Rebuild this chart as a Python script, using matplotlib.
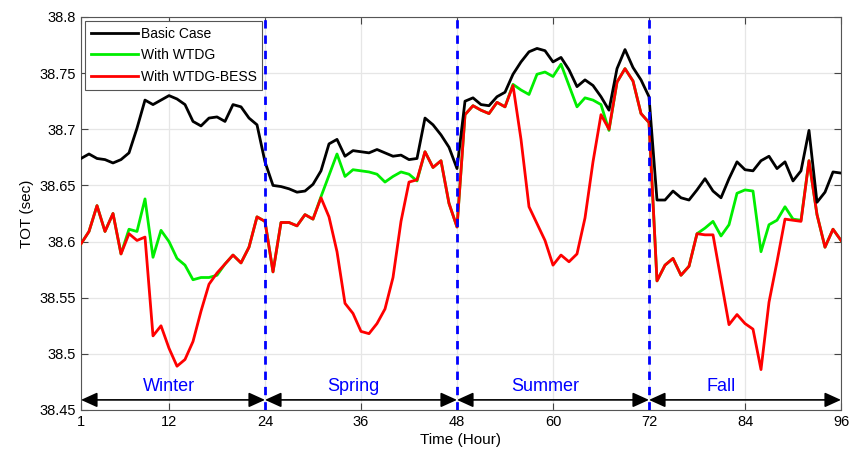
import matplotlib
matplotlib.use("Agg")
from matplotlib import pyplot as plt

plt.rcParams['font.family'] = ['Liberation Sans', 'DejaVu Sans']

hours = list(range(1, 97))

basic_case = [
    38.674, 38.678, 38.674, 38.673, 38.670, 38.673, 38.679, 38.701, 38.726, 38.722,
    38.726, 38.730, 38.727, 38.722, 38.707, 38.703, 38.710, 38.711, 38.707, 38.722,
    38.720, 38.710, 38.704, 38.671,
    38.650, 38.649, 38.647, 38.644, 38.645, 38.651, 38.663, 38.687, 38.691, 38.676,
    38.681, 38.680, 38.679, 38.682, 38.679, 38.676, 38.677, 38.673, 38.674, 38.710,
    38.704, 38.695, 38.684, 38.665,
    38.725, 38.728, 38.722, 38.721, 38.729, 38.733, 38.749, 38.760, 38.769, 38.772,
    38.770, 38.760, 38.764, 38.753, 38.738, 38.744, 38.739, 38.729, 38.717, 38.754,
    38.771, 38.755, 38.744, 38.729,
    38.637, 38.637, 38.645, 38.639, 38.637, 38.646, 38.656, 38.645, 38.639, 38.656,
    38.671, 38.664, 38.663, 38.672, 38.676, 38.665, 38.671, 38.654, 38.663, 38.699,
    38.635, 38.644, 38.662, 38.661,
]

with_wtdg = [
    38.598, 38.609, 38.632, 38.609, 38.625, 38.589, 38.611, 38.609, 38.638, 38.586,
    38.610, 38.600, 38.585, 38.579, 38.566, 38.568, 38.568, 38.570, 38.580, 38.588,
    38.581, 38.595, 38.622, 38.618,
    38.573, 38.617, 38.617, 38.614, 38.624, 38.620, 38.640, 38.659, 38.678, 38.658,
    38.664, 38.663, 38.662, 38.660, 38.653, 38.658, 38.662, 38.660, 38.654, 38.680,
    38.666, 38.672, 38.634, 38.613,
    38.713, 38.721, 38.717, 38.714, 38.724, 38.720, 38.740, 38.735, 38.731, 38.749,
    38.751, 38.747, 38.758, 38.739, 38.720, 38.728, 38.726, 38.722, 38.699, 38.742,
    38.754, 38.743, 38.714, 38.706,
    38.565, 38.579, 38.585, 38.570, 38.578, 38.607, 38.612, 38.618, 38.605, 38.615,
    38.643, 38.646, 38.645, 38.591, 38.615, 38.619, 38.631, 38.620, 38.619, 38.672,
    38.624, 38.595, 38.611, 38.601,
]

with_wtdg_bess = [
    38.598, 38.609, 38.632, 38.609, 38.625, 38.589, 38.607, 38.601, 38.604, 38.516,
    38.525, 38.505, 38.489, 38.495, 38.511, 38.538, 38.562, 38.572, 38.580, 38.588,
    38.581, 38.595, 38.622, 38.618,
    38.573, 38.617, 38.617, 38.614, 38.624, 38.620, 38.639, 38.622, 38.591, 38.545,
    38.536, 38.520, 38.518, 38.527, 38.540, 38.568, 38.618, 38.653, 38.655, 38.680,
    38.666, 38.672, 38.634, 38.613,
    38.713, 38.721, 38.717, 38.714, 38.724, 38.720, 38.739, 38.691, 38.631, 38.616,
    38.601, 38.579, 38.588, 38.582, 38.589, 38.621, 38.671, 38.713, 38.700, 38.742,
    38.754, 38.743, 38.714, 38.706,
    38.565, 38.579, 38.585, 38.570, 38.578, 38.607, 38.606, 38.606, 38.566, 38.526,
    38.535, 38.527, 38.522, 38.486, 38.546, 38.582, 38.620, 38.619, 38.618, 38.672,
    38.624, 38.595, 38.611, 38.601,
]

season_names = ["Winter", "Spring", "Summer", "Fall"]
season_bounds = [1, 24, 48, 72, 96]
season_label_x = [12, 35, 59, 81]

xticks = [1, 12, 24, 36, 48, 60, 72, 84, 96]
yticks = [38.45, 38.5, 38.55, 38.6, 38.65, 38.7, 38.75, 38.8]

fig = plt.figure(figsize=(8.49, 4.61), dpi=100)
ax = fig.add_axes([81 / 849, 1 - 410 / 461, 760 / 849, 393 / 461])

ax.plot(hours, basic_case, color='black', lw=2, label='Basic Case', zorder=5)
ax.plot(hours, with_wtdg, color='#00ee00', lw=2, label='With WTDG', zorder=4)
ax.plot(hours, with_wtdg_bess, color='#ff0000', lw=2, label='With WTDG-BESS', zorder=4.5)

for b in season_bounds[1:-1]:
    ax.axvline(b, color='#0000ff', lw=2, ls=(0, (3, 2.5)), zorder=6)

for i, name in enumerate(season_names):
    ax.annotate('', xy=(season_bounds[i], 38.459), xytext=(season_bounds[i + 1], 38.459),
                arrowprops=dict(arrowstyle='<|-|>,head_length=0.55,head_width=0.25',
                                color='black', lw=1.2,
                                mutation_scale=18, shrinkA=0, shrinkB=0), zorder=7)
    ax.text(season_label_x[i], 38.471, name, color='#0000ff', fontsize=13,
            ha='center', va='center')

ax.set_xlim(1, 96)
ax.set_ylim(38.45, 38.8)
ax.set_xticks(xticks)
ax.set_yticks(yticks)
ax.set_yticklabels(['%g' % v for v in yticks])
ax.tick_params(direction='in', top=True, right=True, labelsize=10.5, length=5, color='#444444')
ax.grid(True, color='#e6e6e6', lw=0.9)
ax.set_axisbelow(True)
for s in ax.spines.values():
    s.set_color('#555555')

ax.set_xlabel('Time (Hour)', fontsize=11, labelpad=3)
ax.set_ylabel('TOT (sec)', fontsize=11, labelpad=4)

leg = ax.legend(loc='upper left', fontsize=10, handlelength=3.4, borderaxespad=0.3,
                handletextpad=0.2, labelspacing=0.55, fancybox=False, framealpha=1,
                edgecolor='#555555', borderpad=0.4)
leg.get_frame().set_linewidth(0.8)

fig.savefig('out.png', dpi=100)
